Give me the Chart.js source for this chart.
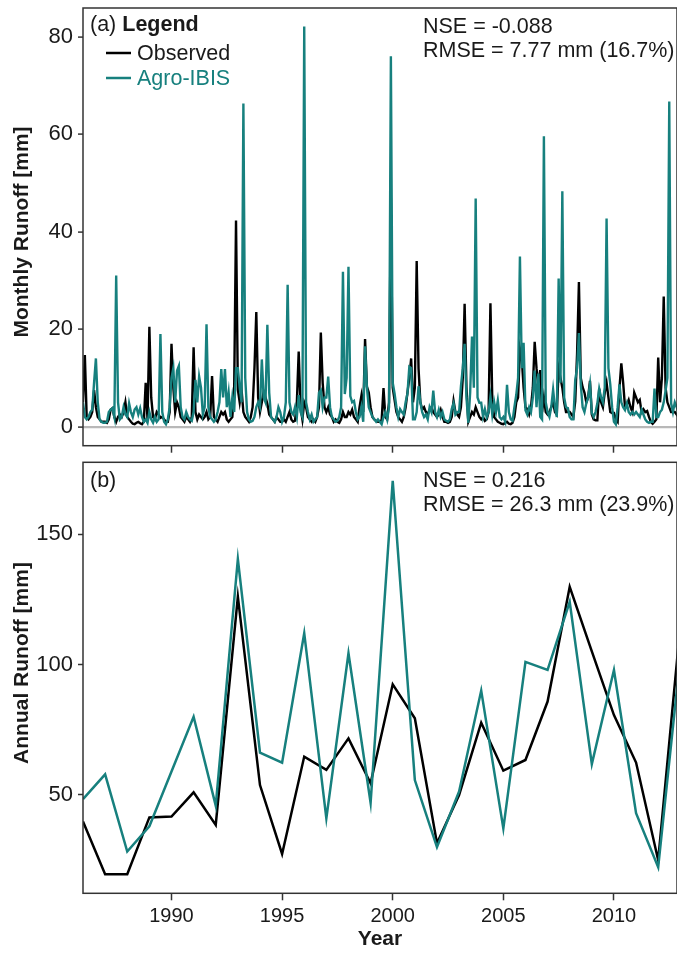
<!DOCTYPE html>
<html>
<head>
<meta charset="utf-8">
<script src="https://cdn.jsdelivr.net/npm/chart.js@4.4.1/dist/chart.umd.min.js"></script>
<style>
  html, body { margin: 0; padding: 0; background: #fff; }
  body { width: 677px; height: 960px; position: relative; overflow: hidden; }
  canvas { position: absolute; left: 0; }
  #monthly { top: 0; }
  #annual { top: 458px; }
</style>
</head>
<body>
<canvas id="monthly" width="677" height="458"></canvas>
<canvas id="annual" width="677" height="502"></canvas>
<script>
const startYear = 1986;
const years = [1986, 1987, 1988, 1989, 1990, 1991, 1992, 1993, 1994, 1995, 1996, 1997, 1998, 1999,
  2000, 2001, 2002, 2003, 2004, 2005, 2006, 2007, 2008, 2009, 2010, 2011, 2012, 2013];
const yearTicks = [1990, 1995, 2000, 2005, 2010];
const monthlyTicks = [0, 20, 40, 60, 80];
const annualTicks = [50, 100, 150];

// annual runoff [mm]
const annualObserved = [39.8, 19.6, 19.6, 41.4, 41.7, 51, 38.5, 126, 53.8, 27.4, 64.7, 59.6, 71.7, 54.5,
  92.4, 79.4, 31.5, 50, 77.7, 59.3, 63.4, 85.8, 129.8, 105, 80.6, 62.4, 25, 115];
const annualAgroIbis = [48.4, 57.9, 28.3, 38, 59, 80, 45.9, 140.4, 66.2, 62.4, 112, 41, 104.3, 47,
  170.4, 55.7, 30, 51.3, 90, 37.2, 101, 97.9, 124, 61.8, 97.9, 43, 22.3, 103];

// monthly runoff [mm], one row per year from 1986
const monthlyObserved = [
  5, 14.7, 2, 1.5, 2, 3, 7.5, 4, 2, 1.5, 1, 1,
  1, 0.8, 1.5, 3.5, 3.8, 2, 1, 2, 2.5, 2, 3, 5,
  2, 1.5, 1, 0.6, 0.5, 0.8, 1, 0.7, 0.5, 1, 9, 1.5,
  20.5, 6, 2, 1.5, 3, 2.5, 1.8, 2, 1.5, 1, 1, 3,
  17, 8, 3, 5, 4, 2, 1.5, 1, 2, 1.5, 1, 2,
  16.3, 3, 1.5, 2.5, 2, 1.5, 2, 3, 1.5, 2, 10.4, 2,
  1.5, 1, 2, 3, 2.5, 3, 1.5, 1, 1.5, 2, 8, 42.3,
  7.6, 5, 7.6, 3, 2, 1.5, 1, 2, 4, 12, 23.5, 6,
  3, 5, 7.2, 6, 4.7, 2.5, 2, 1.5, 1, 2, 1.5, 1,
  1, 1.5, 1, 2, 3, 1.5, 1, 1.2, 5, 15.4, 4, 1.5,
  5, 4, 2, 1.5, 1, 1.5, 1, 2, 4, 19.3, 9, 4,
  3, 4, 2.5, 2, 1, 1.5, 1, 0.8, 1.5, 3, 2, 2,
  3, 2.5, 3.5, 2, 1.5, 1, 4, 6.3, 3, 18, 8.2, 7,
  4, 2, 1.5, 1.2, 1, 1, 1.4, 7.9, 2, 1.5, 5, 46.8,
  8, 5.5, 3, 2, 1.5, 1, 2, 4, 7, 10, 14, 5,
  8, 34, 12, 5, 3.5, 4, 3, 2.5, 3.5, 4, 3, 2.5,
  2, 2.5, 3.5, 2, 1, 1, 0.8, 1, 2, 5.3, 3, 2.5,
  2, 4, 10, 25.2, 8, 1, 2, 3, 2.5, 4, 3, 2,
  1.5, 2, 1.2, 1.5, 3, 25.3, 5.5, 2, 1.5, 1, 0.8, 0.6,
  0.5, 0.8, 1, 0.6, 0.5, 0.8, 2, 5, 6, 16, 14, 8,
  4, 3.6, 2.5, 4, 8, 17.4, 12, 8, 11.6, 3, 6, 3,
  2.5, 3, 4, 5, 3, 2.5, 12, 10, 8, 5, 3, 3,
  3, 2.5, 2, 5.2, 15, 29.7, 10, 8.1, 7, 5, 6, 9.4,
  2.5, 1.5, 1.3, 1.3, 7.8, 5, 4, 7, 9, 6, 3, 2.8,
  2.8, 1.5, 1, 8, 13, 9, 4, 4.5, 5.5, 4, 3, 7,
  6, 5, 5.5, 3, 3.6, 3, 3.2, 2, 1, 0.6, 1, 1.5,
  14.2, 5, 10, 26.7, 8, 5, 4, 3, 3, 3, 2.5, 2
];
const monthlyAgroIbis = [
  5, 2, 1.5, 2, 3, 3.5, 9, 14, 5, 1.5, 1, 0.8,
  0.8, 1, 3, 3.5, 3.8, 2, 31, 5, 1.5, 2, 4, 2.5,
  2, 4.8, 3, 2, 3.5, 4, 2.5, 3.8, 2, 1, 1.5, 0.8,
  3, 1.5, 0.8, 2, 1, 1.5, 19, 3, 1, 0.5, 1.5, 4,
  10, 12, 5, 11.5, 12.5, 4, 2, 1.5, 3, 2, 1.5, 1.2,
  3, 9.6, 5, 10.3, 8, 2.5, 4, 21, 4, 2, 1.5, 1,
  1.5, 3, 5, 11.8, 6, 11.8, 4, 7, 2, 6, 3, 12,
  12, 8, 5, 66.3, 10, 3, 1.5, 1, 1.2, 2, 4, 5,
  4, 13.8, 6, 5, 20.9, 7, 2, 1.5, 1, 2, 4, 3,
  1, 2, 5, 29.1, 5, 3, 2.5, 4, 2, 6.5, 3, 2,
  82.1, 5, 3, 1.5, 2.5, 1, 1.5, 2, 7, 7.5, 4, 6,
  6, 10.3, 4, 2, 1.5, 1, 1.2, 2, 4, 31.8, 6.7, 10,
  32.8, 6.3, 5, 5.3, 3, 1.5, 2, 4, 1, 16.5, 8, 4,
  3, 2, 1.5, 1, 1.5, 1, 0.5, 2, 3, 1.5, 4, 76,
  9, 6.8, 4, 2, 3.6, 3, 2.5, 5, 6.8, 12.3, 12, 1.5,
  1.5, 3, 8.3, 5, 3, 2, 2.5, 1.5, 4, 3, 7.4, 3,
  2, 3.5, 2, 3, 1.5, 1.2, 1, 1.5, 3.6, 4.8, 2.5, 3,
  3, 8.3, 12, 17, 6, 0.8, 7, 18.5, 8, 46.8, 6, 4.9,
  4.9, 2, 3.6, 1.9, 3, 6.2, 2.5, 5.1, 3, 5.4, 2, 1.5,
  2, 1, 8.6, 3, 1.5, 1.2, 4, 6.5, 10, 34.9, 12, 17.2,
  3.4, 2.5, 4, 3, 6, 11.5, 4, 10.9, 2, 1.5, 59.6, 5,
  3, 2, 4, 7.6, 4, 2, 30.4, 9, 48.3, 6, 4, 3.8,
  2, 1.5, 1.5, 9.6, 12, 19.2, 8.7, 4, 3, 4.8, 6, 8.7,
  2.8, 2, 3, 4.8, 7.8, 6, 5, 8, 42.7, 12, 8.7, 4,
  1, 0.5, 4, 8.7, 5, 4, 3.4, 4.8, 3, 2.5, 3, 2.5,
  3, 2.5, 2, 3.5, 2.5, 1.5, 1, 0.8, 1, 1, 7.8, 2,
  2, 3, 3.5, 5, 7.4, 10, 66.7, 4.8, 3, 5, 4, 3
];

const TEAL = '#17807e';
const INK = '#1a1a1a';
const FONT = "'Liberation Sans', Arial, sans-serif";
const TEXT_SIZE = 21.5;
const xMax = 2012.85;

Chart.defaults.font.family = FONT;
Chart.defaults.font.size = 20;
Chart.defaults.color = INK;
Chart.defaults.animation = false;

const monthPoints = (arr) => arr.map((v, i) => ({ x: startYear + i / 12, y: v }));
const yearPoints = (arr) => arr.map((v, i) => ({ x: years[i], y: v }));
const fixTicks = (list) => (scale) => { scale.ticks = list.map((v) => ({ value: v })); };

// fixed axis size, and no extra room kept for the end labels
const fitTo = (prop, size) => (s) => {
  s[prop] = size;
  s.paddingTop = 0; s.paddingBottom = 0; s.paddingLeft = 0; s.paddingRight = 0;
};

// box around the plotting area plus the texts inside it
function panelDecor(id, draw) {
  return {
    id,
    afterDraw(chart) {
      const { ctx, chartArea: a } = chart;
      ctx.save();
      ctx.strokeStyle = '#333';
      ctx.lineWidth = 1.5;
      ctx.strokeRect(a.left, a.top, a.right - a.left, a.bottom - a.top);
      ctx.textBaseline = 'middle';
      ctx.textAlign = 'left';
      ctx.fillStyle = INK;
      draw(ctx, a);
      ctx.restore();
    }
  };
}

function yTitle(ctx, text, x, y) {
  ctx.save();
  ctx.translate(x, y);
  ctx.rotate(-Math.PI / 2);
  ctx.textAlign = 'center';
  ctx.font = `bold 21px ${FONT}`;
  ctx.fillStyle = INK;
  ctx.fillText(text, 0, 0);
  ctx.restore();
}

function xScale(extra) {
  return Object.assign({
    type: 'linear',
    min: startYear,
    max: xMax,
    afterBuildTicks: fixTicks(yearTicks),
    border: { display: false },
    grid: { drawOnChartArea: false, tickColor: '#333', tickLength: 7, tickWidth: 1.5 }
  }, extra);
}

const yTickStyle = { padding: 5, color: INK, font: { size: 22 }, callback: (v) => String(v) };

new Chart(document.getElementById('monthly'), {
  type: 'line',
  data: {
    datasets: [
      { label: 'Agro-IBIS', data: monthPoints(monthlyAgroIbis), borderColor: TEAL, borderWidth: 2.4, pointRadius: 0, order: 0 },
      { label: 'Observed', data: monthPoints(monthlyObserved), borderColor: '#000', borderWidth: 2.4, pointRadius: 0, order: 1 }
    ]
  },
  options: {
    responsive: false,
    layout: { padding: { top: 8, right: 0, bottom: 0, left: 0 } },
    plugins: { legend: { display: false }, tooltip: { enabled: false } },
    scales: {
      x: xScale({ ticks: { display: false }, afterFit: fitTo('height', 12.3) }),
      y: {
        min: -3.9,
        max: 85.9,
        afterBuildTicks: fixTicks(monthlyTicks),
        afterFit: fitTo('width', 83),
        border: { display: false },
        ticks: yTickStyle,
        grid: {
          color: (c) => (c.tick && c.tick.value === 0 ? '#b8b8b8' : 'rgba(0,0,0,0)'),
          lineWidth: 2.2,
          tickColor: '#333',
          tickLength: 5,
          tickWidth: 1.5
        }
      }
    }
  },
  plugins: [panelDecor('decorA', (ctx, a) => {
    ctx.font = `${TEXT_SIZE}px ${FONT}`;
    ctx.fillText('(a)', 90, 25);
    const w = ctx.measureText('(a) ').width;
    ctx.font = `bold ${TEXT_SIZE}px ${FONT}`;
    ctx.fillText('Legend', 90 + w, 25);

    ctx.font = `${TEXT_SIZE}px ${FONT}`;
    ctx.lineWidth = 2.5;
    ctx.strokeStyle = '#000';
    ctx.beginPath(); ctx.moveTo(106, 53); ctx.lineTo(131, 53); ctx.stroke();
    ctx.fillText('Observed', 137, 54);
    ctx.strokeStyle = TEAL;
    ctx.beginPath(); ctx.moveTo(106, 78); ctx.lineTo(131, 78); ctx.stroke();
    ctx.fillStyle = TEAL;
    ctx.fillText('Agro-IBIS', 137, 79);

    ctx.fillStyle = INK;
    ctx.fillText('NSE = -0.088', 423, 27.5);
    ctx.fillText('RMSE = 7.77 mm (16.7%)', 423, 51.5);
    yTitle(ctx, 'Monthly Runoff [mm]', 22, 232);
  })]
});

new Chart(document.getElementById('annual'), {
  type: 'line',
  data: {
    datasets: [
      { label: 'Agro-IBIS', data: yearPoints(annualAgroIbis), borderColor: TEAL, borderWidth: 2.5, pointRadius: 0, order: 0 },
      { label: 'Observed', data: yearPoints(annualObserved), borderColor: '#000', borderWidth: 2.5, pointRadius: 0, order: 1 }
    ]
  },
  options: {
    responsive: false,
    layout: { padding: { top: 4.3, right: 0, bottom: 0, left: 0 } },
    plugins: { legend: { display: false }, tooltip: { enabled: false } },
    scales: {
      x: xScale({
        ticks: { padding: 4, color: INK, font: { size: 20 }, callback: (v) => String(v) },
        title: { display: true, text: 'Year', font: { weight: 'bold', size: 21 }, padding: { top: 0, bottom: 8 }, color: INK },
        afterFit: fitTo('height', 66.7)
      }),
      y: {
        min: 12.3,
        max: 177.5,
        afterBuildTicks: fixTicks(annualTicks),
        afterFit: fitTo('width', 83),
        border: { display: false },
        ticks: yTickStyle,
        grid: { drawOnChartArea: false, tickColor: '#333', tickLength: 5, tickWidth: 1.5 }
      }
    }
  },
  plugins: [panelDecor('decorB', (ctx, a) => {
    ctx.font = `${TEXT_SIZE}px ${FONT}`;
    ctx.fillText('(b)', 90, 22.8);
    ctx.fillText('NSE = 0.216', 423, 23.3);
    ctx.fillText('RMSE = 26.3 mm (23.9%)', 423, 46.7);
    yTitle(ctx, 'Annual Runoff [mm]', 22, 205);
  })]
});
</script>
</body>
</html>
